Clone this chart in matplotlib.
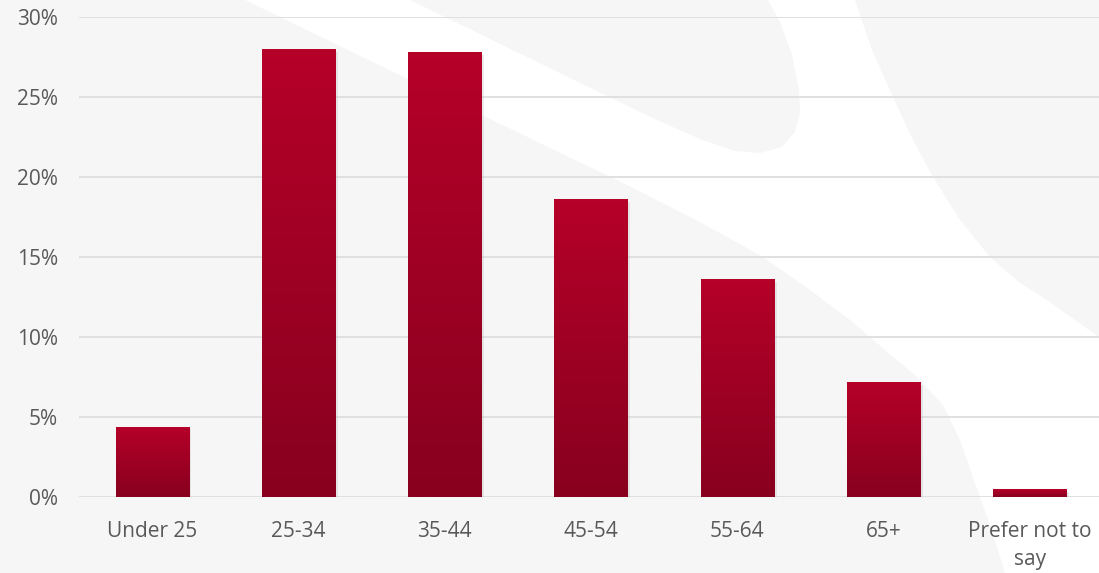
import matplotlib
matplotlib.use("Agg")
import matplotlib.pyplot as plt
import matplotlib.patheffects as pe
from matplotlib.colors import LinearSegmentedColormap
from matplotlib.patches import Polygon
from matplotlib.ticker import PercentFormatter
import numpy as np

categories = ["Under 25", "25-34", "35-44", "45-54", "55-64", "65+", "Prefer not to\nsay"]
shares = [4.4, 28.0, 27.8, 18.6, 13.6, 7.2, 0.5]
yticks = [0, 5, 10, 15, 20, 25, 30]

W, H = 1099, 573
fig = plt.figure(figsize=(W / 100, H / 100), dpi=100)
fig.patch.set_facecolor("#F6F6F6")

# decorative white swoosh behind the chart (pixel coords, y down)
swoosh = [(245, 0), (410, 0), (609, 97), (657, 120), (700, 139), (735, 151), (760, 153),
          (782, 147), (795, 132), (800, 112), (799, 90), (792, 55), (780, 22), (768, 0),
          (855, 0), (872, 50), (893, 97), (912, 138), (933, 177), (960, 220), (990, 257),
          (1020, 283), (1047, 300), (1075, 320), (1099, 337), (1099, 573), (1005, 573),
          (990, 525), (975, 483), (960, 440), (943, 405), (915, 375), (885, 350),
          (850, 320), (810, 290), (763, 257), (700, 222), (617, 180), (550, 148)]
pts = [(x / W, 1 - y / H) for x, y in swoosh]
fig.add_artist(Polygon(pts, closed=True, transform=fig.transFigure,
                       facecolor="white", edgecolor="none", zorder=-1))

ax = fig.add_axes([79 / W, 76 / H, 1024 / W, 480 / H])
ax.set_facecolor("none")

x = np.arange(len(categories))
bars = ax.bar(x, shares, width=0.5, color="#A00024", zorder=3,
              path_effects=[pe.SimplePatchShadow(offset=(2, -2), shadow_rgbFace="#BBBBBB", alpha=0.3),
                            pe.Normal()])

cmap = LinearSegmentedColormap.from_list("bar", ["#88001E", "#9E0024", "#B60029"])
grad = np.linspace(0, 1, 256).reshape(-1, 1)
for rect in bars:
    x0, w, h = rect.get_x(), rect.get_width(), rect.get_height()
    im = ax.imshow(grad, extent=[x0, x0 + w, 0, h], origin="lower",
                   aspect="auto", cmap=cmap, zorder=4, interpolation="bilinear")
    im.set_clip_path(rect)

ax.set_xlim(-0.5, len(categories) - 0.5)
ax.set_ylim(0, 30)
ax.set_yticks(yticks)
ax.yaxis.set_major_formatter(PercentFormatter(100, decimals=0))
ax.set_xticks(x)
ax.set_xticklabels(categories)

ax.grid(axis="y", color="#E0E0E0", linewidth=1.4, zorder=0)
ax.set_axisbelow(True)
for s in ax.spines.values():
    s.set_visible(False)
ax.tick_params(length=0, labelsize=15, labelcolor="#595959")
ax.tick_params(axis="y", pad=15)
ax.tick_params(axis="x", pad=17)
for lab in ax.get_xticklabels() + ax.get_yticklabels():
    lab.set_fontfamily("Open Sans")
for lab in ax.get_xticklabels():
    lab.set_linespacing(1.45)

fig.savefig("out.png", dpi=100, facecolor=fig.get_facecolor())
